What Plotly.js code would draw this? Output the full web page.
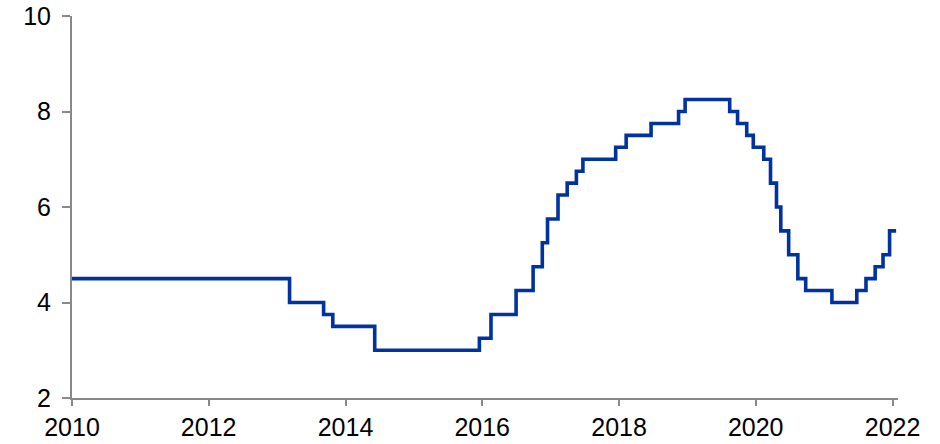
<!DOCTYPE html>
<html>
<head>
<meta charset="utf-8">
<script src="https://cdn.plot.ly/plotly-3.0.1.min.js"></script>
<style>html,body{margin:0;padding:0;background:#fff;}#chart{width:940px;height:444px;}</style>
</head>
<body>
<div id="chart"></div>
<script>
// Policy rate decision dates and levels (%)
const dates = [
  "2010-01-01","2013-03-08","2013-09-06","2013-10-25","2014-06-06",
  "2015-12-17","2016-02-17","2016-06-30","2016-09-29","2016-11-17",
  "2016-12-15","2017-02-09","2017-03-30","2017-05-18","2017-06-22",
  "2017-12-14","2018-02-08","2018-06-21","2018-11-15","2018-12-20",
  "2019-08-15","2019-09-26","2019-11-14","2019-12-19","2020-02-13",
  "2020-03-20","2020-04-21","2020-05-14","2020-06-25","2020-08-13",
  "2020-09-24","2021-02-11","2021-06-24","2021-08-12","2021-09-30",
  "2021-11-11","2021-12-16","2022-01-20"
];
const rates = [
  4.50,4.00,3.75,3.50,3.00,
  3.25,3.75,4.25,4.75,5.25,
  5.75,6.25,6.50,6.75,7.00,
  7.25,7.50,7.75,8.00,8.25,
  8.00,7.75,7.50,7.25,7.00,
  6.50,6.00,5.50,5.00,4.50,
  4.25,4.00,4.25,4.50,4.75,
  5.00,5.50,5.50
];
const yTicks = [2,4,6,8,10];

const trace = {
  x: dates, y: rates, type: "scatter", mode: "lines",
  line: {shape: "hv", color: "#0033A0", width: 3.6},
  hoverinfo: "skip"
};
const axisCol = "#898989";
const layout = {
  width: 940, height: 444,
  margin: {l: 72, r: 42, t: 16, b: 46},
  paper_bgcolor: "#fff", plot_bgcolor: "#fff",
  showlegend: false,
  font: {family: "Liberation Sans, Arial, sans-serif", size: 25, color: "#000"},
  xaxis: {
    type: "date", range: ["2010-01-01", "2022-01-30"],
    tick0: "2010-01-01", dtick: "M24", tickformat: "%Y",
    showgrid: false, zeroline: false,
    showline: true, linecolor: axisCol, linewidth: 2,
    ticks: "outside", ticklen: 6, tickwidth: 2, tickcolor: axisCol,
    tickfont: {size: 25}
  },
  yaxis: {
    range: [2, 10], tickvals: yTicks,
    showgrid: false, zeroline: false,
    showline: true, linecolor: axisCol, linewidth: 2,
    ticks: "outside", ticklen: 8, tickwidth: 2, tickcolor: axisCol,
    tickfont: {size: 25}, ticklabelstandoff: 6
  }
};
Plotly.newPlot("chart", [trace], layout, {staticPlot: true, displayModeBar: false});
</script>
</body>
</html>
